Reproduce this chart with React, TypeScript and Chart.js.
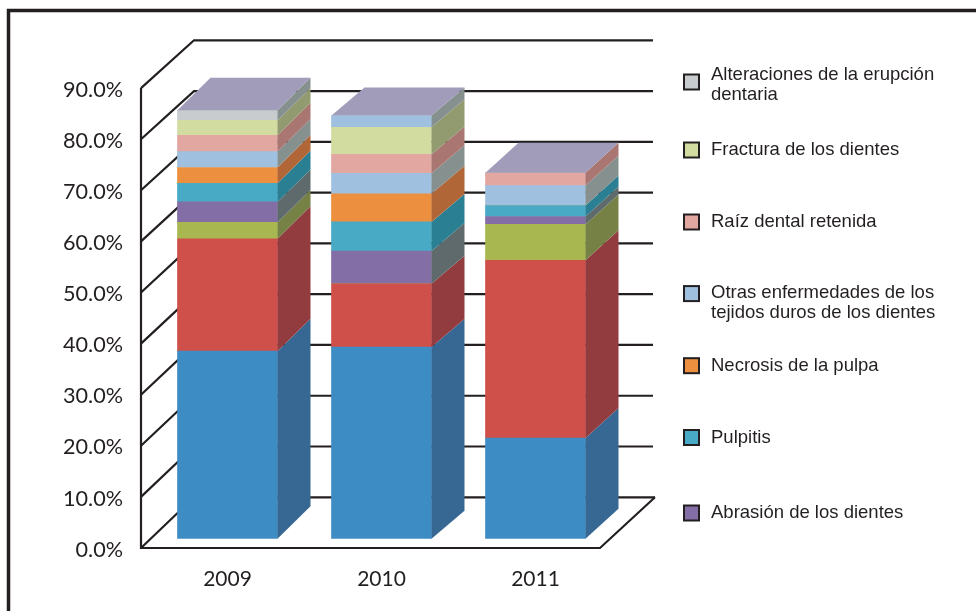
import React, { useEffect, useRef } from "react";
import { Chart, registerables } from "chart.js";

Chart.register(...registerables);

const years = ["2009", "2010", "2011"];
const serie1 = [36.7, 37.5, 19.7];
const serie2 = [22.0, 12.4, 34.8];
const serie3 = [3.2, 0, 7.0];
const abrasion = [4.0, 6.4, 1.55];
const pulpitis = [3.65, 5.7, 2.15];
const necrosis = [3.1, 5.5, 0];
const otras = [3.1, 4.0, 3.9];
const raiz = [3.2, 3.7, 2.5];
const fractura = [2.9, 5.3, 0];
const alteraciones = [2.0, 0, 0];
const otrasExtra = [0, 2.3, 0];

const yTicks = [0, 10, 20, 30, 40, 50, 60, 70, 80, 90];

const legendLabels = [
  ["Alteraciones de la erupción", "dentaria"],
  ["Fractura de los dientes"],
  ["Raíz dental retenida"],
  ["Otras enfermedades de los", "tejidos duros de los dientes"],
  ["Necrosis de la pulpa"],
  ["Pulpitis"],
  ["Abrasión de los dientes"],
];
const legendColors = ["#c9ccce", "#d3dca0", "#e3a7a2", "#9fc0df", "#ec9040", "#49aac5", "#836ea6"];

const INK = "#231f20";
const TOP_FACE = "#a09cb9";
const series = [
  { label: "Serie 1", data: serie1, front: "#3e8cc4", side: "#376893" },
  { label: "Serie 2", data: serie2, front: "#cf504a", side: "#933c40" },
  { label: "Serie 3", data: serie3, front: "#a9b750", side: "#768245" },
  { label: "Abrasión de los dientes", data: abrasion, front: "#836ea6", side: "#5e6a6b" },
  { label: "Pulpitis", data: pulpitis, front: "#49aac5", side: "#2b7f93" },
  { label: "Necrosis de la pulpa", data: necrosis, front: "#ec9040", side: "#b06637" },
  { label: "Otras enfermedades", data: otras, front: "#9fc0df", side: "#86908f" },
  { label: "Raíz dental retenida", data: raiz, front: "#e3a7a2", side: "#a97672" },
  { label: "Fractura de los dientes", data: fractura, front: "#d3dca0", side: "#929b6f" },
  { label: "Alteraciones de la erupción dentaria", data: alteraciones, front: "#c9ccce", side: "#86908f" },
  { label: "Otras", data: otrasExtra, front: "#9fc0df", side: "#86908f" },
];

const poly = (ctx: CanvasRenderingContext2D, pts: number[][], fill: string) => {
  ctx.beginPath();
  pts.forEach(([x, y], i) => (i ? ctx.lineTo(x, y) : ctx.moveTo(x, y)));
  ctx.closePath();
  ctx.fillStyle = fill;
  ctx.fill();
};

const wallsPlugin = {
  id: "walls",
  beforeDatasetsDraw(chart: any) {
    const { ctx, scales } = chart;
    const y = scales.y;
    const frontX = 141, backX = 194, backEnd = 653, floorRight = 600;
    const frontY = (v: number) => y.getPixelForValue(v) + 9.3;
    const backY = (v: number) => 497.3 - (v / 90) * 457;
    ctx.save();
    ctx.strokeStyle = INK;
    ctx.lineCap = "butt";
    // page frame
    ctx.lineWidth = 3.5;
    ctx.beginPath();
    ctx.moveTo(8.5, 611);
    ctx.lineTo(8.5, 10.5);
    ctx.lineTo(976, 10.5);
    ctx.stroke();
    ctx.lineWidth = 2.2;
    yTicks.forEach((v) => {
      ctx.beginPath();
      ctx.moveTo(frontX, frontY(v));
      ctx.lineTo(backX, backY(v));
      ctx.lineTo(v === 0 ? backEnd + 2 : backEnd, backY(v));
      ctx.stroke();
    });
    ctx.beginPath();
    ctx.moveTo(frontX, frontY(90));
    ctx.lineTo(frontX, frontY(0));
    ctx.lineTo(floorRight, frontY(0));
    ctx.lineTo(backEnd + 2, backY(0));
    ctx.stroke();
    ctx.restore();
  },
};

const facesPlugin = {
  id: "faces",
  afterDatasetsDraw(chart: any) {
    const { ctx } = chart;
    const depthX = 33;
    const depthY = [32.5, 28, 30];
    ctx.save();
    years.forEach((_, j) => {
      const dy = depthY[j];
      let top: any = null;
      series.forEach((s, i) => {
        if (!s.data[j]) return;
        const bar: any = chart.getDatasetMeta(i).data[j];
        const r = bar.x + bar.width / 2;
        poly(ctx, [[r, bar.base], [r + depthX, bar.base - dy], [r + depthX, bar.y - dy], [r, bar.y]], s.side);
        top = bar;
      });
      if (top) {
        const l = top.x - top.width / 2;
        const r = top.x + top.width / 2;
        poly(ctx, [[l, top.y], [r, top.y], [r + depthX, top.y - dy], [l + depthX, top.y - dy]], TOP_FACE);
      }
    });
    ctx.restore();
  },
};

const legendPlugin = {
  id: "sideLegend",
  afterDraw(chart: any) {
    const { ctx } = chart;
    const boxX = 684, boxSize = 15, textX = 711, lineGap = 20;
    const centers = [82, 150, 222, 293.6, 365.7, 437.5, 513];
    ctx.save();
    ctx.font = "18.5px 'Liberation Sans'";
    ctx.textBaseline = "middle";
    ctx.textAlign = "left";
    legendLabels.forEach((lines, i) => {
      const c = centers[i];
      ctx.fillStyle = legendColors[i];
      ctx.fillRect(boxX, c - boxSize / 2, boxSize, boxSize);
      ctx.strokeStyle = INK;
      ctx.lineWidth = 2;
      ctx.strokeRect(boxX, c - boxSize / 2, boxSize, boxSize);
      ctx.fillStyle = INK;
      const firstY = lines.length > 1 ? c - (i === 0 ? 7 : 0.6) : c;
      lines.forEach((t, k) => ctx.fillText(t, textX, firstY + k * lineGap));
    });
    ctx.restore();
  },
};

export default function App() {
  const ref = useRef<HTMLCanvasElement>(null);
  useEffect(() => {
    document.body.style.margin = "0";
    document.body.style.background = "#fff";
    const chart = new Chart(ref.current as HTMLCanvasElement, {
      type: "bar",
      data: {
        labels: years,
        datasets: series.map((s) => ({
          label: s.label,
          data: s.data,
          backgroundColor: s.front,
          borderWidth: 0,
          barThickness: 100,
        })),
      },
      options: {
        animation: false,
        responsive: false,
        devicePixelRatio: 1,
        layout: { padding: { left: 0, right: 363.5, top: 78.8, bottom: 0 } },
        plugins: { legend: { display: false }, tooltip: { enabled: false }, title: { display: false } },
        scales: {
          x: {
            stacked: true,
            grid: { display: false, drawTicks: false },
            border: { display: false },
            afterFit: (s: any) => { s.height = 72.3; },
            ticks: {
              padding: 27.5,
              maxRotation: 0,
              color: INK,
              font: { family: "Lato", size: 21 },
            },
          },
          y: {
            stacked: true,
            min: 0,
            max: 90,
            grid: { display: false, drawTicks: false },
            border: { display: false },
            afterFit: (s: any) => { s.width = 150.5; },
            ticks: {
              stepSize: 10,
              padding: 27.5,
              labelOffset: 11,
              color: INK,
              font: { family: "Lato", size: 21.6 },
              callback: (v: any) => `${Number(v).toFixed(1)}%`,
            },
          },
        },
      },
      plugins: [wallsPlugin, facesPlugin, legendPlugin],
    } as any);
    return () => chart.destroy();
  }, []);
  return <canvas ref={ref} width={976} height={611} style={{ display: "block" }} />;
}
